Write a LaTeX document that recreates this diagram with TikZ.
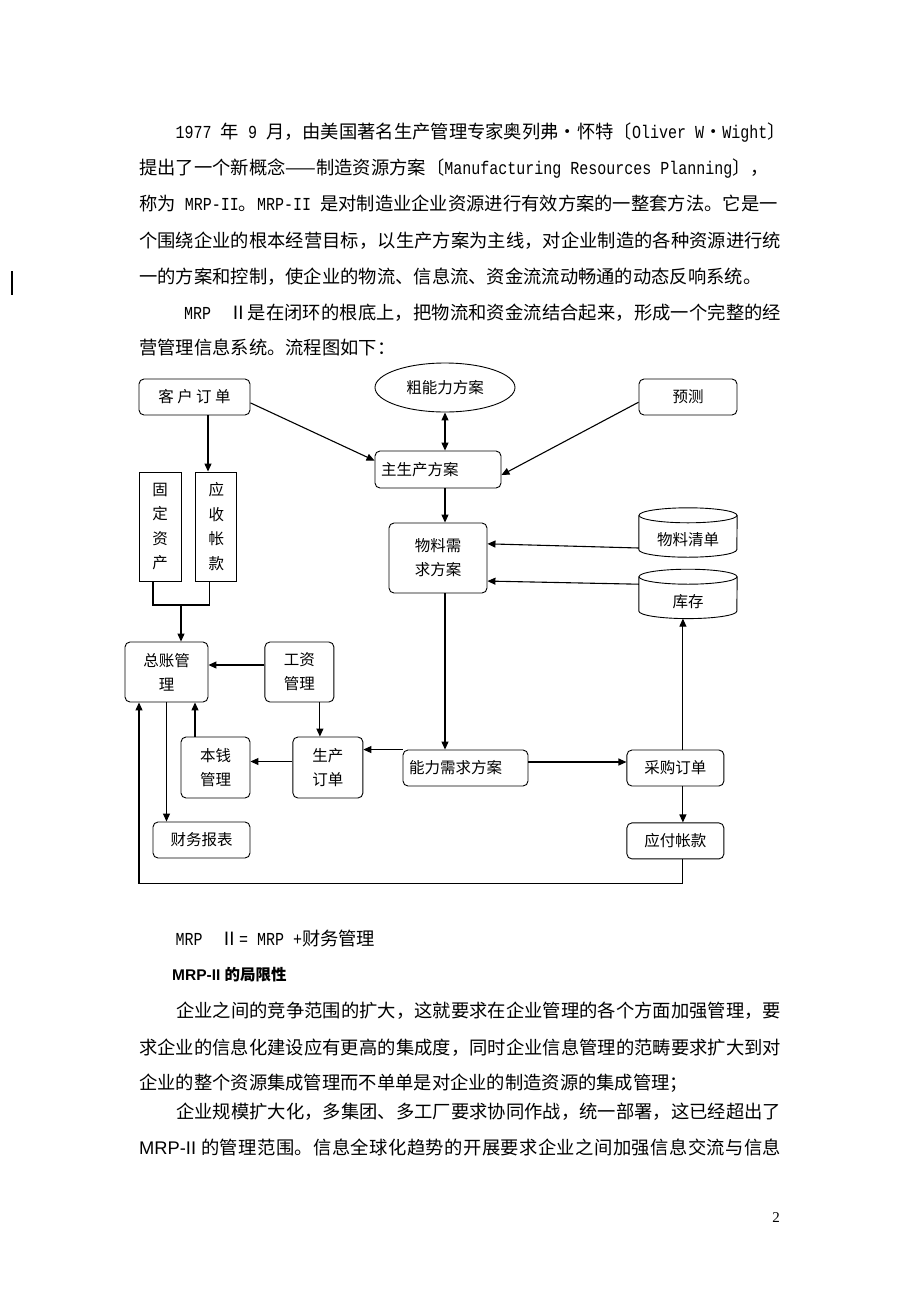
\documentclass[tikz,border=0pt]{standalone}
\usepackage{fontspec}
\setmainfont{Noto Sans CJK SC}
\newfontfamily\monolat{Liberation Mono}[FakeStretch=0.82]
\newfontfamily\arialfont{Liberation Sans}
\newfontfamily\timesfont{Liberation Serif}
\newcommand\lat[1]{{\monolat\spaceskip=\fontdimen2\font\relax #1}}
\newcommand\arl[1]{{\arialfont\spaceskip=\fontdimen2\font\relax #1}}
\def\spreadcjk#1#2{#1\ifx#2\relax\else\hskip 0pt plus 1pt\expandafter\spreadcjk\expandafter#2\fi}
\usetikzlibrary{positioning}
\usetikzlibrary{shapes.geometric}
\usetikzlibrary{arrows.meta}

\begin{document}
\begin{tikzpicture}[x=1pt, y=-1pt,
  >={Triangle[length=8pt,width=7pt]},
  box/.style={rectangle, draw, rounded corners=5pt, line width=0.9pt, inner sep=2pt,
    font=\fontsize{15.5pt}{24pt}\selectfont, align=center},
  bar/.style={rectangle, draw, line width=0.9pt, minimum width=42pt, minimum height=109pt,
    inner sep=0pt, font=\fontsize{15.5pt}{24.5pt}\selectfont, align=center},
  store/.style={rectangle, minimum width=98pt, minimum height=34pt, inner sep=0pt,
    font=\fontsize{15.5pt}{24pt}\selectfont},
  link/.style={->, line width=1.1pt},
  txt/.style={anchor=base west, inner sep=0pt, font=\fontsize{18.3pt}{36pt}\selectfont}]

\useasboundingbox[fill=white] (0,0) rectangle (920,1302);

\node(p1)[txt] at (175.5,138) {\makebox[605pt][s]{\lat{1977 }年\lat{ 9 }月，由美国著名生产管理专家奥列弗•怀特〔\lat{Oliver W}•\lat{Wight}〕}};
\node(p2)[txt] at (139,174) {\makebox[642pt][s]{提出了一个新概念——制造资源方案〔\lat{Manufacturing Resources Planning}〕，}};
\node(p3)[txt] at (139,210.5) {\makebox[642pt][s]{称为\lat{ MRP-II}。\lat{MRP-II }是对制造业企业资源进行有效方案的一整套方法。它是一}};
\node(p4)[txt] at (139,247) {\makebox[642pt][s]{\spreadcjk 个围绕企业的根本经营目标，以生产方案为主线，对企业制造的各种资源进行统\relax}};
\node(p5)[txt] at (139,283) {一的方案和控制，使企业的物流、信息流、资金流流动畅通的动态反响系统。};
\node(p6)[txt] at (184,319) {\makebox[597pt][s]{\lat{MRP\ \ }\spreadcjk Ⅱ是在闭环的根底上，把物流和资金流结合起来，形成一个完整的经\relax}};
\node(p7)[txt] at (139,354.5) {营管理信息系统。流程图如下：};
\draw[line width=1.3pt] (12,271) -- (12,295);

\node(order)[box, minimum width=111pt, minimum height=36pt] at (194.5,397) {客 户 订 单};
\node(rough)[ellipse, draw, line width=0.9pt, minimum width=140pt, minimum height=49pt,
  font=\fontsize{15.5pt}{24pt}\selectfont] at (445,387.5) {粗能力方案};
\node(forecast)[box, minimum width=98pt, minimum height=36pt] at (688,397) {预测};
\node(mps)[box, text width=114pt, align=left, inner xsep=6pt, minimum height=37pt] at (438,469.5) {主生产方案};
\node(mrp)[box, minimum width=98pt, minimum height=70pt] at (438,558) {物料需\\求方案};
\node(bom)[store] at (688,540) {物料清单};
\node(stock)[store, below=27pt of bom] {库存};
\node(fixed)[bar] at (160,526.5) {固\\定\\资\\产};
\node(recv)[bar, minimum width=41pt, right=14pt of fixed] {应\\收\\帐\\款};
\node(ledger)[box, minimum width=83pt, minimum height=60pt] at (166.5,672) {总账管\\理};
\node(wage)[box, minimum width=69pt, minimum height=60pt, right=56pt of ledger] {工资\\管理};
\node(cost)[box, minimum width=69pt, minimum height=61pt] at (215.5,767.5) {本钱\\管理};
\node(prod)[box, minimum width=70pt, minimum height=61pt, right=42pt of cost] {生产\\订单};
\node(report)[box, minimum width=97pt, minimum height=36pt] at (201.5,840) {财务报表};
\node(crp)[box, text width=113pt, align=left, inner xsep=6pt, minimum height=36pt] at (465.5,768) {能力需求方案};
\node(purch)[box, minimum width=97pt, minimum height=36pt, right=98pt of crp] {采购订单};
\node(pay)[box, minimum width=97pt, minimum height=36pt, below=36pt of purch] {应付帐款};

\foreach \n in {bom,stock}{
  \draw[line width=0.9pt] ([yshift=7.5pt]\n.north) ellipse [x radius=49pt, y radius=7.5pt];
  \draw[line width=0.9pt] ([yshift=7.5pt]\n.north west) -- ([yshift=7.5pt]\n.south west)
    arc [start angle=180, end angle=360, x radius=49pt, y radius=7.5pt] -- ([yshift=7.5pt]\n.north east);
}

\draw[link] (order.-6) -- (mps.172);
\draw[link] (forecast.186) -- (mps.-5);
\draw[<->, line width=1.1pt] (rough.south) -- (rough.south |- mps.north);
\draw[link] (rough.south |- mps.south) -- (rough.south |- mrp.north);
\draw[link] ([yshift=-8pt]bom.west) -- (mrp.16);
\draw[link] (stock.north west) -- (mrp.-25);
\draw[link] (rough.south |- mrp.south) -- (rough.south |- crp.north);
\draw[link] (crp.north west) -- (crp.north west -| prod.east);
\draw[link] ([yshift=6pt]crp.east) -- ([yshift=6pt]crp.east -| purch.west);
\draw[link] ([xshift=7.5pt]purch.north) -- ([xshift=7.5pt]purch.north |- stock.south);
\draw[link] ([xshift=7.5pt]purch.south) -- ([xshift=7.5pt]pay.north);
\draw[link] ([xshift=7.5pt]pay.south) -- ++(0,24) -| ([xshift=-27.5pt]ledger.south);
\draw[link] ([xshift=13.5pt]order.south) -- ([xshift=13.5pt]order.south |- recv.north);
\coordinate(join) at (181,605);
\draw[line width=1.1pt] ([xshift=-7pt]fixed.south) |- (join) -| ([xshift=-6.5pt]recv.south);
\draw[link] (join) -- (join |- ledger.north);
\draw[link] ([yshift=7pt]wage.west) -- ([yshift=7pt]wage.west -| ledger.east);
\draw[link] ([xshift=20.5pt]wage.south) -- ([xshift=20.5pt]wage.south |- prod.north);
\draw[link] ([yshift=6pt]prod.west) -- ([yshift=6pt]prod.west -| cost.east);
\draw[link] ([xshift=-20.5pt]cost.north) -- ([xshift=-20.5pt]cost.north |- ledger.south);
\draw[link] (ledger.south) -- (ledger.south |- report.north);

\node(q1)[txt] at (175.5,945) {\lat{MRP\ \ }Ⅱ\lat{= MRP +}财务管理};
\node(q2)[anchor=base west, inner sep=0pt, font=\fontsize{15.5pt}{20pt}\selectfont\bfseries] at (172,980) {\arl{MRP-II }的局限性};
\node(q3)[txt] at (176,1017) {\makebox[605pt][s]{\spreadcjk 企业之间的竞争范围的扩大，这就要求在企业管理的各个方面加强管理，要\relax}};
\node(q4)[txt] at (139,1054) {\makebox[642pt][s]{\spreadcjk 求企业的信息化建设应有更高的集成度，同时企业信息管理的范畴要求扩大到对\relax}};
\node(q5)[txt] at (139,1089) {企业的整个资源集成管理而不单单是对企业的制造资源的集成管理；};
\node(q6)[txt] at (176,1118) {\makebox[605pt][s]{\spreadcjk 企业规模扩大化，多集团、多工厂要求协同作战，统一部署，这已经超出了\relax}};
\node(q7)[txt] at (139,1154) {\arl{MRP-II }\makebox[580pt][s]{\spreadcjk 的管理范围。信息全球化趋势的开展要求企业之间加强信息交流与信息\relax}};
\node(pg)[anchor=base east, inner sep=0pt, font=\fontsize{15pt}{18pt}\selectfont\timesfont] at (780,1222) {2};
\end{tikzpicture}
\end{document}
